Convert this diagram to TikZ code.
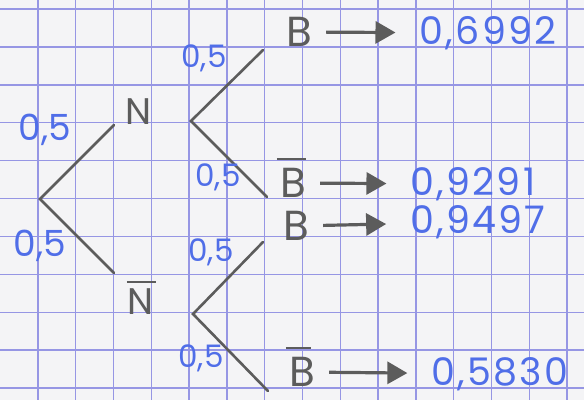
\documentclass[tikz,border=0pt]{standalone}
\usepackage{fontspec}
\setmainfont{Poppins}
\usetikzlibrary{arrows.meta}
\definecolor{gridc}{RGB}{150,150,228}
\definecolor{paper}{RGB}{244,244,246}
\definecolor{ink}{RGB}{80,110,232}
\definecolor{pencil}{RGB}{92,92,92}
\begin{document}
\begin{tikzpicture}[x=1pt,y=-1pt,
  gridline/.style={draw=gridc,line width=1.4pt},
  branch/.style={draw=pencil,line width=2.6pt,line cap=round},
  prob/.style={text=ink,inner sep=0pt,font=\fontsize{36}{38}\selectfont},
  probs/.style={text=ink,inner sep=0pt,font=\fontsize{31}{33}\selectfont},
  result/.style={text=ink,inner sep=0pt,font=\fontsize{38}{40}\selectfont\addfontfeature{LetterSpace=6}},
  event/.style={text=pencil,inner sep=0pt,font=\fontsize{42}{44}\selectfont},
  evsmall/.style={text=pencil,inner sep=0pt,font=\fontsize{37}{39}\selectfont},
  barline/.style={draw=pencil,line width=2.2pt},
  arr/.style={draw=pencil,line width=3.2pt,-{Triangle[length=20pt,width=22pt]},shorten <=14pt,shorten >=24pt}]
\fill[paper] (0,0) rectangle (584,400);
\useasboundingbox (0,0) rectangle (584,400);
\foreach \k in {1,...,15} \draw[gridline] (37.8*\k,0) -- (37.8*\k,400);
\foreach \k in {0,...,10} \draw[gridline] (0,9+37.9*\k) -- (584,9+37.9*\k);
% tree points
\coordinate (r) at (40,199);
\coordinate (n1) at (114,125);
\coordinate (n2) at (114,273);
\coordinate (a) at (191,121);
\coordinate (a1) at (263,50);
\coordinate (a2) at (267,197);
\coordinate (b) at (193,314);
\coordinate (b1) at (263,242);
\coordinate (b2) at (268,391);
\draw[branch] (n1) -- (r) -- (n2);
\draw[branch] (a1) -- (a) -- (a2);
\draw[branch] (b1) -- (b) -- (b2);
% event labels
\node[evsmall] (N) at (139,112) {N};
\node[evsmall] (Nb) at (141,302) {N};
\draw[barline] ([yshift=7pt,xshift=-1pt]Nb.north west) -- ([yshift=7pt,xshift=2pt]Nb.north east);
\node[event] (B1) at (299,32) {B};
\node[event] (B2) at (293,183) {B};
\draw[barline] ([yshift=9pt,xshift=-3pt]B2.north west) -- ([yshift=9pt,xshift=0pt]B2.north east);
\node[event] (B3) at (296,226) {B};
\node[event] (B4) at (302,372) {B};
\draw[barline] ([yshift=9pt,xshift=-3pt]B4.north west) -- ([yshift=9pt,xshift=-4pt]B4.north east);
% probabilities
\node[prob] (p1) at (45,130) {0,5};
\node[prob] (p2) at (40,246) {0,5};
\node[probs] (p3) at (204,58) {0,5};
\node[probs] (p4) at (218,177) {0,5};
\node[probs] (p5) at (211,252) {0,5};
\node[probs] (p6) at (201,358) {0,5};
% results
\node[result] (v1) at (488,33) {0,6992};
\node[result] (v2) at (473,184) {0,9291};
\node[result] (v3) at (478,222) {0,9497};
\node[result] (v4) at (500,374) {0,5830};
\draw[arr] (B1) -- (v1);
\draw[arr] (B2) -- (v2);
\draw[arr] (B3) -- (v3);
\draw[arr] (B4) -- (v4);
\end{tikzpicture}
\end{document}
